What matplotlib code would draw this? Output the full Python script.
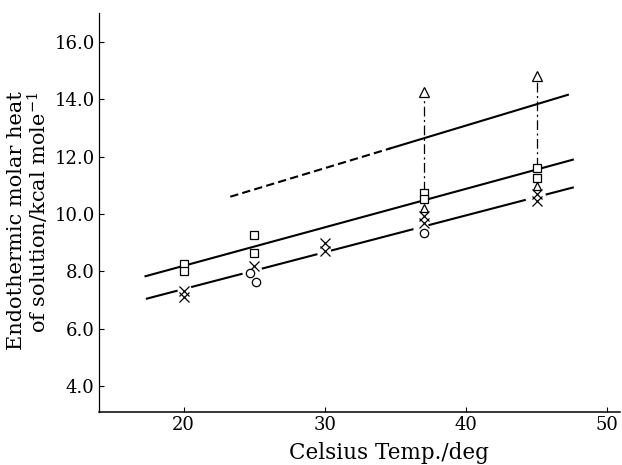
import matplotlib
matplotlib.use("Agg")
import matplotlib.pyplot as plt
import numpy as np

plt.rcParams['font.family'] = ['DejaVu Serif']
plt.rcParams['mathtext.fontset'] = 'dejavuserif'
plt.rcParams['lines.scale_dashes'] = False

# measured points (deg C, kcal/mol)
sq_t = [20, 20, 25, 25, 37, 37, 45, 45]
sq_h = [8.25, 8.02, 9.28, 8.65, 10.74, 10.53, 11.61, 11.26]
x_t = [20, 20, 25, 30, 30, 37, 37, 45, 45]
x_h = [7.30, 7.09, 8.18, 9.00, 8.70, 9.94, 9.70, 10.70, 10.45]
o_t = [24.7, 25.1, 37]
o_h = [7.93, 7.64, 9.35]
tri_t = [37, 45]
tri_h = [10.22, 10.99]

# arrows (lower end, upper end, triangle head)
arr_t = [37, 45]
arr_lo = [10.80, 11.65]
arr_hi = [14.10, 14.65]
arr_head = [14.25, 14.80]

# fitted lines
upper_t = [17.3, 47.55]
upper_h = [7.83, 11.89]
lower_t = [17.4, 47.55]
lower_h = [7.05, 10.92]
lower_gaps = [(19.5, 20.6), (24.1, 25.6), (29.4, 30.5), (36.2, 37.4), (44.15, 45.7)]
dash_t = [23.3, 34.6]
dash_h = [10.60, 12.28]
dsolid_t = [34.6, 47.2]
dsolid_h = [12.28, 14.15]

fig = plt.figure(figsize=(6.22, 4.65), dpi=100)
ax = fig.add_axes([0.159, 0.114, 0.838, 0.858])

lw = 1.5
ax.plot(upper_t, upper_h, color='black', lw=lw, zorder=2)

# lower line is broken around the points
edges = [lower_t[0]]
for a, b in lower_gaps:
    edges += [a, b]
edges.append(lower_t[1])
for i in range(0, len(edges), 2):
    seg = np.array(edges[i:i + 2])
    ax.plot(seg, np.interp(seg, lower_t, lower_h), color='black', lw=lw, zorder=2)

ax.plot(dash_t, dash_h, color='black', lw=lw, dashes=(6, 3), zorder=2)
ax.plot(dsolid_t, dsolid_h, color='black', lw=lw, zorder=2)

for t, lo, hi in zip(arr_t, arr_lo, arr_hi):
    ax.plot([t, t], [lo, hi], color='black', lw=0.9, dashes=(7, 2.5, 1.5, 2.5), zorder=2)
ax.plot(arr_t, arr_head, ls='none', marker='^', ms=6.5, mfc='white', mec='black', mew=0.9, zorder=4)

ax.plot(sq_t, sq_h, ls='none', marker='s', ms=5.5, mfc='white', mec='black', mew=0.9, zorder=4)
ax.plot(tri_t, tri_h, ls='none', marker='^', ms=6, mfc='white', mec='black', mew=0.9, zorder=4)
ax.plot(x_t, x_h, ls='none', marker='x', ms=6.5, mec='black', mew=0.9, zorder=4)
ax.plot(o_t, o_h, ls='none', marker='o', ms=6, mfc='white', mec='black', mew=0.9, zorder=4)

ax.set_xlim(14, 50.9)
ax.set_ylim(3.1, 17.0)
ax.set_xticks([20, 30, 40, 50])
ax.set_yticks([4, 6, 8, 10, 12, 14, 16])
ax.set_yticklabels(['%.1f' % v for v in [4, 6, 8, 10, 12, 14, 16]])
ax.tick_params(direction='in', length=3.5, width=0.8, labelsize=13, pad=3)
ax.spines['top'].set_visible(False)
ax.spines['right'].set_visible(False)
ax.spines['left'].set_linewidth(0.9)
ax.spines['bottom'].set_linewidth(1.1)

fig.text(0.625, 0.026, 'Celsius Temp./deg', ha='center', va='center', fontsize=15.5)
fig.text(0.046, 0.525, 'Endothermic molar heat\nof solution/kcal mole$^{-1}$',
         ha='center', va='center', rotation=90, fontsize=15, multialignment='right',
         linespacing=1.0)

fig.savefig('out.png', dpi=100)
